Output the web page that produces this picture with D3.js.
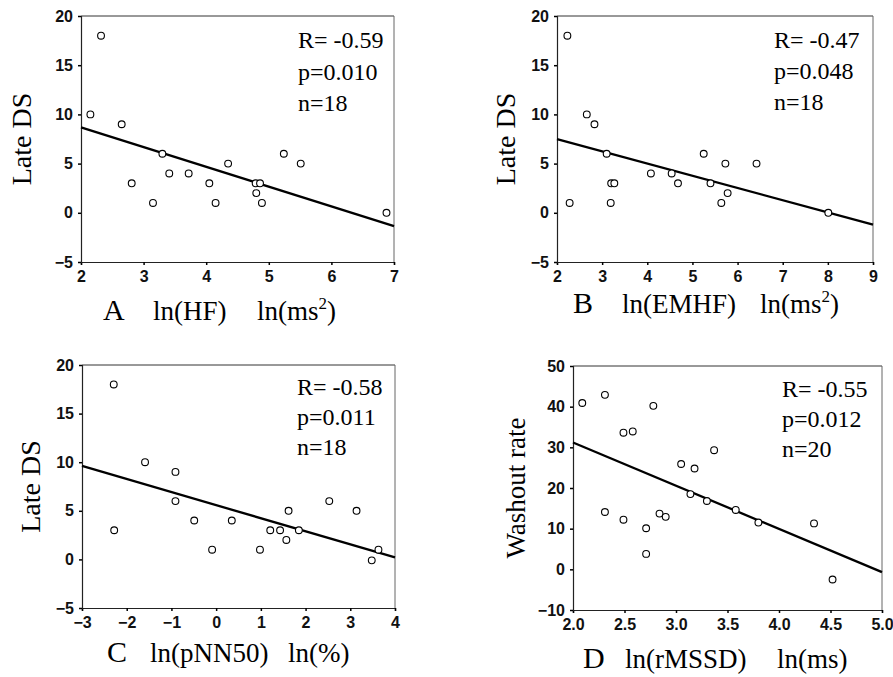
<!DOCTYPE html>
<html>
<head>
<meta charset="utf-8">
<script src="https://cdn.jsdelivr.net/npm/d3@7"></script>
<style>
  body { margin: 0; background: #fff; }
  .serif { font-family: "Liberation Serif", "Times New Roman", serif; fill: #000; }
</style>
</head>
<body>
<svg id="chart" width="893" height="677"></svg>
<script>
// values
const hfX = [2.15, 2.32, 2.65, 2.81, 3.15, 3.30, 3.41, 3.72, 4.05, 4.15, 4.35, 4.79, 4.86, 4.80, 4.89, 5.24, 5.51, 6.88];
const hfY = [10, 18, 9, 3, 1, 6, 4, 4, 3, 1, 5, 3, 3, 2, 1, 6, 5, 0];
const hfFit = [[2, 8.68], [7, -1.35]];

const emhfX = [2.23, 2.28, 2.66, 2.83, 3.10, 3.20, 3.27, 3.19, 4.08, 4.54, 4.68, 5.25, 5.40, 5.64, 5.73, 5.78, 6.42, 8.01];
const emhfY = [18, 1, 10, 9, 6, 3, 3, 1, 4, 4, 3, 6, 3, 1, 5, 2, 5, 0];
const emhfFit = [[2, 7.48], [9, -1.2]];

const pnnX = [-2.29, -2.28, -1.59, -0.91, -0.91, -0.49, -0.09, 0.35, 0.98, 1.21, 1.43, 1.57, 1.62, 1.85, 2.53, 3.14, 3.48, 3.63];
const pnnY = [18, 3, 10, 9, 6, 4, 1, 4, 1, 3, 3, 2, 5, 3, 6, 5, -0.1, 1];
const pnnFit = [[-3, 9.62], [4, 0.2]];

const rmssdX = [2.09, 2.31, 2.31, 2.49, 2.58, 2.49, 2.78, 2.71, 2.71, 2.84, 2.90, 3.05, 3.18, 3.14, 3.37, 3.30, 3.58, 3.80, 4.34, 4.52];
const rmssdY = [40.9, 42.9, 14.1, 33.6, 33.9, 12.2, 40.2, 10.1, 3.8, 13.7, 12.9, 25.9, 24.8, 18.5, 29.3, 16.8, 14.6, 11.5, 11.3, -2.5];
const rmssdFit = [[2, 31.2], [5, -0.7]];

const lateDsTicks = [-5, 0, 5, 10, 15, 20];
const washoutTicks = [-10, 0, 10, 20, 30, 40, 50];
const hfTicks = [2, 3, 4, 5, 6, 7];
const emhfTicks = [2, 3, 4, 5, 6, 7, 8, 9];
const pnnTicks = [-3, -2, -1, 0, 1, 2, 3, 4];
const rmssdTicks = [2.0, 2.5, 3.0, 3.5, 4.0, 4.5, 5.0];

const stats = {
  A: ["R= -0.59", "p=0.010", "n=18"],
  B: ["R= -0.47", "p=0.048", "n=18"],
  C: ["R= -0.58", "p=0.011", "n=18"],
  D: ["R= -0.55", "p=0.012", "n=20"]
};

const panels = [
  { id: "A", xs: hfX, ys: hfY, fit: hfFit, xDom: [2, 7], yDom: [-5, 20], xTicks: hfTicks, yTicks: lateDsTicks, xFmt: d3.format("d"),
    box: [81, 394, 16, 262], yTitle: "Late DS", yTitleX: 31, yTitleSize: 28, xName: "ln(HF)", xUnit: ["ln(ms", "2", ")"],
    titleY: 320, letterX: 103, nameX: 153, unitX: 257, statX: 298, statY: [48, 80, 111] },
  { id: "B", xs: emhfX, ys: emhfY, fit: emhfFit, xDom: [2, 9], yDom: [-5, 20], xTicks: emhfTicks, yTicks: lateDsTicks, xFmt: d3.format("d"),
    box: [557, 873, 16, 262], yTitle: "Late DS", yTitleX: 515, yTitleSize: 28, xName: "ln(EMHF)", xUnit: ["ln(ms", "2", ")"],
    titleY: 313, letterX: 573, nameX: 622, unitX: 760, statX: 774, statY: [48, 79, 110] },
  { id: "C", xs: pnnX, ys: pnnY, fit: pnnFit, xDom: [-3, 4], yDom: [-5, 20], xTicks: pnnTicks, yTicks: lateDsTicks, xFmt: d3.format("d"),
    box: [82, 395, 365, 608], yTitle: "Late DS", yTitleX: 40, yTitleSize: 28, xName: "ln(pNN50)", xUnit: ["ln(%)"],
    titleY: 662, letterX: 107, nameX: 150, unitX: 288, statX: 297, statY: [395, 425, 455] },
  { id: "D", xs: rmssdX, ys: rmssdY, fit: rmssdFit, xDom: [2, 5], yDom: [-10, 50], xTicks: rmssdTicks, yTicks: washoutTicks, xFmt: d3.format(".1f"),
    box: [573, 882, 366, 610], yTitle: "Washout rate", yTitleX: 525, yTitleSize: 27, xName: "ln(rMSSD)", xUnit: ["ln(ms)"],
    titleY: 668, letterX: 583, nameX: 625, unitX: 777, statX: 782, statY: [397, 427, 457] }
];

const svg = d3.select("#chart");

panels.forEach(p => {
  const [x0, x1, y0, y1] = p.box;
  const x = d3.scaleLinear().domain(p.xDom).range([x0, x1]);
  const y = d3.scaleLinear().domain(p.yDom).range([y1, y0]);
  const g = svg.append("g").attr("class", "panel-" + p.id);

  // frame (top/right are lighter in the original)
  g.append("line").attr("x1", x0).attr("x2", x1).attr("y1", y0).attr("y2", y0)
    .attr("stroke", "#333").attr("stroke-width", 1);
  g.append("line").attr("x1", x1).attr("x2", x1).attr("y1", y0).attr("y2", y1)
    .attr("stroke", "#666").attr("stroke-width", 1);

  const ax = g.append("g").attr("transform", `translate(0,${y1})`)
    .call(d3.axisBottom(x).tickValues(p.xTicks).tickFormat(p.xFmt).tickSizeOuter(0).tickSize(3).tickPadding(6));
  const ay = g.append("g").attr("transform", `translate(${x0},0)`)
    .call(d3.axisLeft(y).tickValues(p.yTicks).tickFormat(d3.format("d")).tickSizeOuter(0).tickSize(3).tickPadding(5));
  [ax, ay].forEach(a => {
    a.attr("font-family", "Liberation Sans, Arial, sans-serif").attr("font-size", 16).attr("font-weight", "bold");
    a.select(".domain").attr("stroke", "#222").attr("stroke-width", 1.2);
    a.selectAll(".tick line").attr("stroke", "#000").attr("stroke-width", 1.5);
    a.selectAll(".tick text").attr("fill", "#111")
      .text(function () { return this.textContent.replace("-", "\u2212"); });
  });

  // regression line
  g.append("line")
    .attr("x1", x(p.fit[0][0])).attr("y1", y(p.fit[0][1]))
    .attr("x2", x(p.fit[1][0])).attr("y2", y(p.fit[1][1]))
    .attr("stroke", "#000").attr("stroke-width", 2.3);

  g.selectAll("circle.pt").data(p.xs.map((v, i) => [v, p.ys[i]])).join("circle")
    .attr("class", "pt")
    .attr("cx", d => x(d[0])).attr("cy", d => y(d[1]))
    .attr("r", 3.4).attr("fill", "#fff").attr("stroke", "#000").attr("stroke-width", 1.1);

  // R / p / n
  stats[p.id].forEach((s, i) => {
    g.append("text").attr("class", "serif").attr("x", p.statX).attr("y", p.statY[i])
      .attr("font-size", 24).text(s);
  });

  // y title
  g.append("text").attr("class", "serif")
    .attr("transform", `translate(${p.yTitleX},${(y0 + y1) / 2}) rotate(-90)`)
    .attr("text-anchor", "middle").attr("font-size", p.yTitleSize).text(p.yTitle);

  // x title: letter, variable, unit
  g.append("text").attr("class", "serif").attr("x", p.letterX).attr("y", p.titleY)
    .attr("font-size", 30).text(p.id);
  g.append("text").attr("class", "serif").attr("x", p.nameX).attr("y", p.titleY)
    .attr("font-size", 27).text(p.xName);
  const u = g.append("text").attr("class", "serif").attr("x", p.unitX).attr("y", p.titleY)
    .attr("font-size", 27);
  u.append("tspan").text(p.xUnit[0]);
  if (p.xUnit.length > 1) {
    u.append("tspan").attr("font-size", 17).attr("dy", -11).text(p.xUnit[1]);
    u.append("tspan").attr("dy", 11).text(p.xUnit[2]);
  }
});
</script>
</body>
</html>
